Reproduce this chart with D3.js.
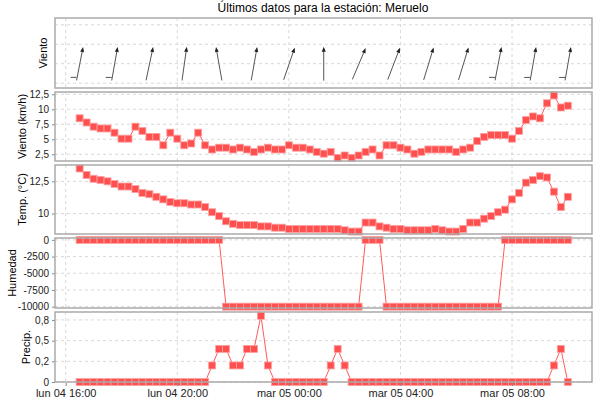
<!DOCTYPE html>
<html>
<head>
<meta charset="utf-8">
<script src="https://cdn.jsdelivr.net/npm/d3@7"></script>
<style>
  body { margin: 0; background: #fff; }
  text { font-family: "Liberation Sans", Arial, sans-serif; }
</style>
</head>
<body>
<svg id="chart" width="600" height="400"></svg>
<script>
// DATA - readings every 15 min, from lun 04 16:30 to mar 05 10:00
const startTime = "2024-03-04T16:30";
const stepMinutes = 15;

const windSpeed = [8.5, 7.8, 7.1, 6.8, 6.8, 6.1, 5.1, 5.1, 7.1, 6.4, 5.4, 5.4, 4.0, 6.1, 5.1, 4.0, 4.3, 6.1, 4.0, 3.3,
  3.6, 3.6, 3.3, 3.6, 3.3, 2.9, 3.3, 3.6, 3.3, 3.3, 4.0, 3.6, 3.6, 3.3, 2.9, 2.6, 2.9, 1.9, 2.3, 1.9,
  2.3, 2.9, 3.3, 2.3, 4.0, 4.0, 3.6, 3.3, 2.6, 2.9, 3.3, 3.3, 3.3, 3.3, 2.9, 3.3, 3.6, 4.7, 5.4, 5.7,
  5.7, 5.7, 5.1, 6.4, 8.2, 8.8, 8.5, 11.0, 12.3, 10.3, 10.6];

const temperature = [13.5, 13.0, 12.7, 12.6, 12.5, 12.3, 12.1, 12.1, 11.9, 11.6, 11.5, 11.3, 11.1, 10.9, 10.8, 10.8, 10.7, 10.7, 10.5, 10.1,
  9.8, 9.4, 9.2, 9.1, 9.1, 9.1, 9.0, 9.0, 8.9, 8.9, 8.8, 8.8, 8.8, 8.8, 8.8, 8.8, 8.8, 8.8, 8.7, 8.6,
  8.6, 9.3, 9.3, 9.0, 8.9, 8.8, 8.8, 8.7, 8.7, 8.7, 8.7, 8.8, 8.7, 8.6, 8.6, 8.8, 9.3, 9.3, 9.6, 9.8,
  10.1, 10.3, 11.1, 11.6, 12.4, 12.6, 12.9, 12.8, 11.7, 10.5, 11.3];

const humidity = [0, 0, 0, 0, 0, 0, 0, 0, 0, 0, 0, 0, 0, 0, 0, 0, 0, 0, 0, 0, 0,
  -10000, -10000, -10000, -10000, -10000, -10000, -10000, -10000, -10000, -10000,
  -10000, -10000, -10000, -10000, -10000, -10000, -10000, -10000, -10000, -10000,
  0, 0, 0,
  -10000, -10000, -10000, -10000, -10000, -10000, -10000, -10000, -10000, -10000,
  -10000, -10000, -10000, -10000, -10000, -10000, -10000,
  0, 0, 0, 0, 0, 0, 0, 0, 0, 0];

const precip = [0, 0, 0, 0, 0, 0, 0, 0, 0, 0, 0, 0, 0, 0, 0, 0, 0, 0, 0, 0.2,
  0.4, 0.4, 0.2, 0.2, 0.4, 0.4, 0.8, 0.2, 0, 0, 0, 0, 0, 0, 0, 0, 0.2, 0.4, 0.2, 0,
  0, 0, 0, 0, 0, 0, 0, 0, 0, 0, 0, 0, 0, 0, 0, 0, 0, 0, 0, 0,
  0, 0, 0, 0, 0, 0, 0, 0, 0.2, 0.4, 0];

// wind direction arrows, one every 5 readings (degrees, clockwise from north)
const windDirection = [11, 10, 12, 8, -10, 10, 19, 0, 23, 21, 17, 17, 11, 10, 10];
const windBarb = [1, 1, 0, 0, 0, 0, 0, 0, 0, 0, 0, 0, 1, 1, 1];

const xTicks = ["2024-03-04T16:00", "2024-03-04T20:00", "2024-03-05T00:00", "2024-03-05T04:00", "2024-03-05T08:00"];
const dayNames = ["dom", "lun", "mar", "mié", "jue", "vie", "sáb"];

const parse = d3.utcParse("%Y-%m-%dT%H:%M");
const t0 = parse(startTime);
const times = windSpeed.map((d, i) => new Date(t0.getTime() + i * stepMinutes * 60000));

const svg = d3.select("#chart");
const left = 55, right = 592;
const x = d3.scaleUtc()
    .domain([parse("2024-03-04T15:37"), parse("2024-03-05T10:52")])
    .range([left, right]);

const comma = v => String(v).replace(".", ",");
// one decimal, half-even rounding (0.25 -> 0,2 ; 0.75 -> 0,8)
const oneDecimal = v => {
  if (v === 0) return "0";
  const s = v * 10, f = Math.floor(s), diff = s - f;
  let r = diff > 0.5 + 1e-9 ? f + 1 : diff < 0.5 - 1e-9 ? f : (f % 2 === 0 ? f : f + 1);
  return comma(r / 10);
};

svg.append("text").attr("x", 323).attr("y", 12).attr("text-anchor", "middle")
    .attr("font-size", 12).text("Últimos datos para la estación: Meruelo");

const panels = [
  { label: "Viento", top: 18, bottom: 88, domain: [0, 3.6], ticks: [0.25, 1.25, 2.25, 3.25], showTicks: false, labelX: 47 },
  { label: "Viento (km/h)", top: 92, bottom: 161, domain: [1.38, 12.88], ticks: [2.5, 5, 7.5, 10, 12.5], values: windSpeed, labelX: 26 },
  { label: "Temp. (°C)", top: 165, bottom: 234, domain: [8.41, 13.77], ticks: [10, 12.5], values: temperature, labelX: 26 },
  { label: "Humedad", top: 238, bottom: 308, domain: [-10200, 280], ticks: [0, -2500, -5000, -7500, -10000], values: humidity, labelX: 16 },
  { label: "Precip.", top: 312, bottom: 382, domain: [0, 0.846], ticks: [0, 0.25, 0.5, 0.75], values: precip, labelX: 30,
    fmt: oneDecimal }
];

panels.forEach(p => {
  const y = d3.scaleLinear().domain(p.domain).range([p.bottom, p.top]);
  const g = svg.append("g");

  // grid
  g.selectAll(".hg").data(p.ticks).join("line")
      .attr("x1", left).attr("x2", right)
      .attr("y1", d => y(d)).attr("y2", d => y(d))
      .attr("stroke", "#d8d8d8").attr("stroke-dasharray", "3,3");
  g.selectAll(".vg").data(xTicks.map(parse)).join("line")
      .attr("x1", d => x(d)).attr("x2", d => x(d))
      .attr("y1", p.top).attr("y2", p.bottom)
      .attr("stroke", "#d8d8d8").attr("stroke-dasharray", "3,3");

  // y axis
  if (p.showTicks !== false) {
    const ax = d3.axisLeft(y).tickValues(p.ticks).tickSize(3)
        .tickFormat(p.fmt || (v => comma(v)));
    const a = g.append("g").attr("transform", `translate(${left},0)`).call(ax);
    a.select(".domain").remove();
    a.selectAll("line").attr("stroke", "#888");
    a.selectAll("text").attr("font-size", 10).attr("fill", "#222")
        .attr("font-family", "'Liberation Sans', Arial, sans-serif");
  }
  g.append("text")
      .attr("transform", `translate(${p.labelX},${(p.top + p.bottom) / 2}) rotate(-90)`)
      .attr("text-anchor", "middle").attr("font-size", 11).text(p.label);

  if (p.values) {
    const pts = p.values.map((v, i) => [times[i], v]);
    g.append("path").datum(pts)
        .attr("fill", "none").attr("stroke", "#ff5a5a").attr("stroke-width", 1)
        .attr("d", d3.line().x(d => x(d[0])).y(d => y(d[1])));
    g.selectAll(".pt").data(pts).join("rect")
        .attr("x", d => x(d[0]) - 3.5).attr("y", d => y(d[1]) - 3.5)
        .attr("width", 7).attr("height", 7)
        .attr("fill", "#ff5050").attr("stroke", "#ffa0a0").attr("stroke-width", 0.8);
  } else {
    // wind direction arrows
    const L = 32, cy = y(1.2);
    windDirection.forEach((deg, k) => {
      const cx = x(times[k * 5]);
      const r = deg * Math.PI / 180;
      const dx = Math.sin(r) * L / 2, dy = -Math.cos(r) * L / 2;
      const hx = cx + dx, hy = cy + dy, tx = cx - dx, ty = cy - dy;
      g.append("line").attr("x1", tx).attr("y1", ty).attr("x2", hx).attr("y2", hy)
          .attr("stroke", "#555").attr("stroke-width", 1);
      const ux = Math.sin(r), uy = -Math.cos(r);
      const px = -uy, py = ux;
      g.append("path")
          .attr("d", `M${hx + ux * 2},${hy + uy * 2}L${hx - ux * 3 + px * 2},${hy - uy * 3 + py * 2}L${hx - ux * 3 - px * 2},${hy - uy * 3 - py * 2}Z`)
          .attr("fill", "#222");
      if (windBarb[k]) {
        g.append("line").attr("x1", tx - 6).attr("y1", ty - 3).attr("x2", tx).attr("y2", ty - 3)
            .attr("stroke", "#555");
      }
    });
  }

  g.append("rect").attr("x", left).attr("y", p.top)
      .attr("width", right - left).attr("height", p.bottom - p.top)
      .attr("fill", "none").attr("stroke", "#aaa").attr("stroke-width", 1.5);
});

// bottom time axis
const fmtTick = d => `${dayNames[d.getUTCDay()]} ${d3.utcFormat("%d %H:%M")(d)}`;
const xa = svg.append("g").attr("transform", "translate(0,383)")
    .call(d3.axisBottom(x).tickValues(xTicks.map(parse)).tickSize(3).tickFormat(fmtTick));
xa.select(".domain").remove();
xa.selectAll("line").attr("stroke", "#888");
xa.selectAll("text").attr("font-size", 11).attr("fill", "#222")
    .attr("font-family", "'Liberation Sans', Arial, sans-serif");
</script>
</body>
</html>
